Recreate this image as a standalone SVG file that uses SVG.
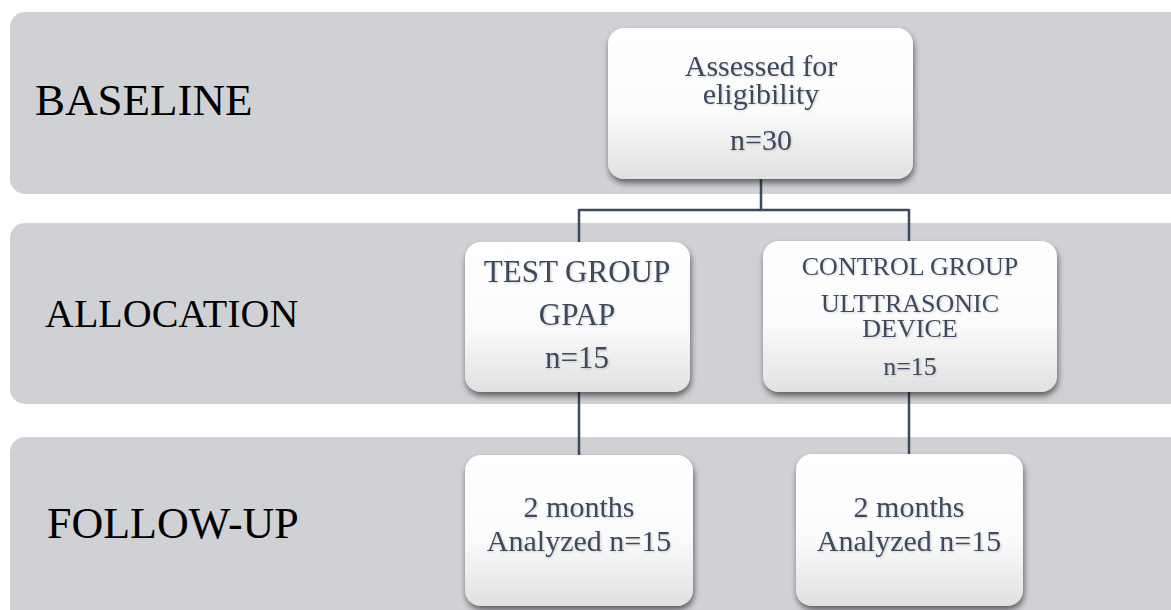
<svg xmlns="http://www.w3.org/2000/svg" width="1171" height="610" viewBox="0 0 1171 610">
<defs>
<linearGradient id="boxg" x1="0" y1="0" x2="0" y2="1">
<stop offset="0" stop-color="#ffffff"/>
<stop offset="0.55" stop-color="#fbfbfb"/>
<stop offset="1" stop-color="#e1e1e1"/>
</linearGradient>
<filter id="sh" x="-10%" y="-10%" width="125%" height="130%">
<feGaussianBlur in="SourceAlpha" stdDeviation="3"/>
<feOffset dx="1" dy="4" result="b"/>
<feComponentTransfer><feFuncA type="linear" slope="0.55"/></feComponentTransfer>
<feMerge><feMergeNode/><feMergeNode in="SourceGraphic"/></feMerge>
</filter>
<filter id="tsh" x="-5%" y="-20%" width="110%" height="140%">
<feGaussianBlur in="SourceAlpha" stdDeviation="0.8"/>
<feOffset dx="1" dy="1"/>
<feComponentTransfer><feFuncA type="linear" slope="0.18"/></feComponentTransfer>
<feMerge><feMergeNode/><feMergeNode in="SourceGraphic"/></feMerge>
</filter>
</defs>
<style>
.band{fill:#d0d1d5}
.box{fill:url(#boxg);filter:url(#sh)}
.lbl{font-family:"Liberation Serif",serif;fill:#000}
.t{font-family:"Liberation Serif",serif;fill:#3c4a5e;text-anchor:middle;filter:url(#tsh)}
.conn{stroke:#3b4a5e;stroke-width:2.5;fill:none}
</style>
<rect width="1171" height="610" fill="#ffffff"/>
<g id="bands">
<rect class="band" x="10" y="12" width="1175" height="182" rx="15"/>
<rect class="band" x="10" y="223" width="1175" height="181" rx="15"/>
<rect class="band" x="10" y="437" width="1175" height="190" rx="15"/>
<text class="lbl" x="35" y="115" font-size="45">BASELINE</text>
<text class="lbl" x="45" y="327" font-size="40">ALLOCATION</text>
<text class="lbl" x="47" y="538" font-size="44">FOLLOW-UP</text>
</g>
<g id="connectors">
<path class="conn" d="M761 179 V210 M579 210 H909 M579 209 V243 M909 209 V243"/>
<path class="conn" d="M579 392 V456 M909 392 V456"/>
</g>
<g id="n-assessed">
<rect class="box" x="608" y="28" width="305" height="151" rx="16"/>
<text class="t" x="761" y="76" font-size="30">Assessed for</text>
<text class="t" x="761" y="104" font-size="30">eligibility</text>
<text class="t" x="761" y="150" font-size="30">n=30</text>
</g>
<g id="n-test">
<rect class="box" x="465" y="242" width="225" height="150" rx="16"/>
<text class="t" x="577" y="282" font-size="31">TEST GROUP</text>
<text class="t" x="577" y="325" font-size="31">GPAP</text>
<text class="t" x="577" y="368" font-size="31">n=15</text>
</g>
<g id="n-control">
<rect class="box" x="763" y="241" width="294" height="151" rx="16"/>
<text class="t" x="910" y="275" font-size="26">CONTROL GROUP</text>
<text class="t" x="910" y="312" font-size="26">ULTTRASONIC</text>
<text class="t" x="910" y="337" font-size="26">DEVICE</text>
<text class="t" x="910" y="375" font-size="26">n=15</text>
</g>
<g id="n-fu-test">
<rect class="box" x="465" y="455" width="228" height="151" rx="16"/>
<text class="t" x="579" y="517" font-size="30">2 months</text>
<text class="t" x="579" y="551" font-size="30">Analyzed n=15</text>
</g>
<g id="n-fu-control">
<rect class="box" x="796" y="454" width="227" height="152" rx="16"/>
<text class="t" x="909" y="517" font-size="30">2 months</text>
<text class="t" x="909" y="551" font-size="30">Analyzed n=15</text>
</g>
</svg>
